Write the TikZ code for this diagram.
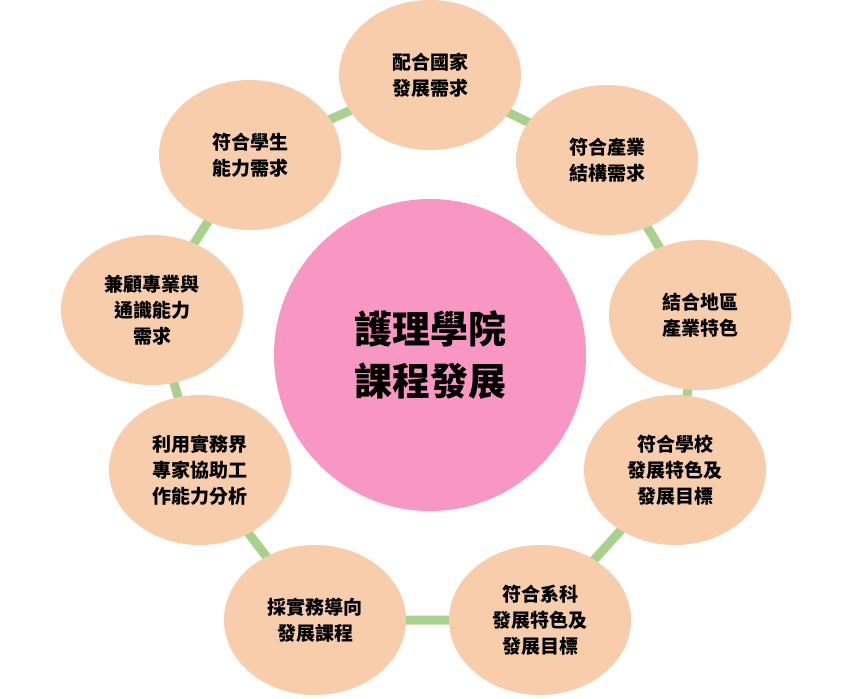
\documentclass[tikz,border=0pt]{standalone}
\usepackage{fontspec}
\usetikzlibrary{shapes.geometric}
\setmainfont{Noto Sans CJK TC}
\definecolor{peach}{RGB}{247,205,172}
\definecolor{lgreen}{RGB}{169,209,142}
\definecolor{cpink}{RGB}{249,151,196}
\begin{document}
\begin{tikzpicture}[x=1pt,y=-1pt,
 outer/.style={shape=ellipse,fill=peach,minimum width=182pt,minimum height=150pt,align=center,font=\fontsize{19}{26}\selectfont\bfseries,inner sep=0pt},
 link/.style={draw=lgreen,line width=9pt}]
\useasboundingbox (0,0) rectangle (861,698);
\coordinate (p1) at (430,75);
\coordinate (p2) at (607,160);
\coordinate (p3) at (700,315);
\coordinate (p4) at (675,470);
\coordinate (p5) at (540,620);
\coordinate (p6) at (315,620);
\coordinate (p7) at (200,470);
\coordinate (p8) at (152,310);
\coordinate (p9) at (250,155);
\draw[link] (p1)--(p2)--(p3)--(p4)--(p5)--(p6)--(p7)--(p8)--(p9)--cycle;
\node[shape=ellipse,fill=cpink,minimum width=312pt,minimum height=312pt,align=center,font=\fontsize{38}{52}\selectfont\bfseries] (c) at (430,355) {護理學院\\課程發展};
\node[outer] (n1) at (p1) {配合國家\\發展需求};
\node[outer] (n2) at (p2) {符合產業\\結構需求};
\node[outer] (n3) at (p3) {結合地區\\產業特色};
\node[outer] (n4) at (p4) {符合學校\\發展特色及\\發展目標};
\node[outer] (n5) at (p5) {符合系科\\發展特色及\\發展目標};
\node[outer] (n6) at (p6) {採實務導向\\發展課程};
\node[outer] (n7) at (p7) {利用實務界\\專家協助工\\作能力分析};
\node[outer] (n8) at (p8) {兼顧專業與\\通識能力\\需求};
\node[outer] (n9) at (p9) {符合學生\\能力需求};
\end{tikzpicture}
\end{document}
